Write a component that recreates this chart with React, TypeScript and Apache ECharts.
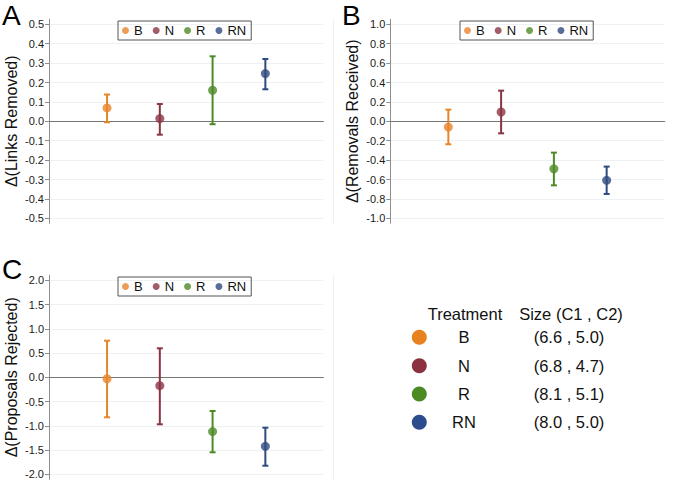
import React, { useEffect, useRef } from "react";
import * as echarts from "echarts";

const categories = ["B", "N", "R", "RN"];
const colors = ["#e8852a", "#8b3443", "#4d8a26", "#2e4a7e"];
const tableColors = ["#e8821f", "#8b3141", "#4c8a23", "#2c4c8e"];

// Panel A: Δ(Links Removed)
const meanA = [0.069, 0.014, 0.16, 0.246];
const lowA = [-0.005, -0.069, -0.015, 0.165];
const highA = [0.138, 0.089, 0.335, 0.321];

// Panel B: Δ(Removals Received)
const meanB = [-0.059, 0.096, -0.49, -0.608];
const lowB = [-0.237, -0.124, -0.66, -0.749];
const highB = [0.12, 0.316, -0.323, -0.467];

// Panel C: Δ(Proposals Rejected)
const meanC = [-0.03, -0.173, -1.12, -1.423];
const lowC = [-0.825, -0.969, -1.546, -1.823];
const highC = [0.755, 0.598, -0.695, -1.039];

// Table
const sizeC1 = [6.6, 6.8, 8.1, 8.0];
const sizeC2 = [5.0, 4.7, 5.1, 5.0];

const FONT = "'Liberation Sans', Arial, Helvetica, sans-serif";

export default function App() {
  const ref = useRef<HTMLDivElement>(null);

  useEffect(() => {
    if (!ref.current) return;
    const chart = echarts.init(ref.current, undefined, { renderer: "svg" });

    const panels = [
      { name: "Δ(Links Removed)", mean: meanA, low: lowA, high: highA, min: -0.5, max: 0.5, interval: 0.1, left: 49, top: 24.3, legendLeft: 118, legendTop: 21, border: true },
      { name: "Δ(Removals Received)", mean: meanB, low: lowB, high: highB, min: -1, max: 1, interval: 0.2, left: 390.3, top: 24.3, legendLeft: 460, legendTop: 21, border: false },
      { name: "Δ(Proposals Rejected)", mean: meanC, low: lowC, high: highC, min: -2, max: 2, interval: 0.5, left: 49, top: 280.3, legendLeft: 118, legendTop: 277, border: true },
    ];

    const grid: any[] = [];
    const xAxis: any[] = [];
    const yAxis: any[] = [];
    const series: any[] = [];
    const legend: any[] = [];

    panels.forEach((p) => {
      // outer grid (axis line extension + faint panel border)
      const og = grid.length;
      grid.push({ left: p.left, top: p.top - 5, width: p.border ? 284 : 274.4, height: 204, containLabel: false });
      xAxis.push({ gridIndex: og, type: "value", show: false, min: 0, max: 1 });
      const oy = yAxis.length;
      yAxis.push({
        gridIndex: og, type: "value", min: 0, max: 1, position: "left",
        axisLine: { show: true, onZero: false, lineStyle: { color: "#8e8e8e", width: 1 } },
        axisTick: { show: false }, axisLabel: { show: false }, splitLine: { show: false },
      });
      if (p.border) {
        yAxis.push({
          gridIndex: og, type: "value", min: 0, max: 1, position: "right",
          axisLine: { show: true, onZero: false, lineStyle: { color: "#f0f0f0", width: 1 } },
          axisTick: { show: false }, axisLabel: { show: false }, splitLine: { show: false },
        });
      }
      series.push({
        type: "line", xAxisIndex: og, yAxisIndex: oy, data: [], silent: true,
      });

      // data grid
      const g = grid.length;
      grid.push({ left: p.left, top: p.top, width: 274.4, height: 194, containLabel: false });
      const xi = xAxis.length;
      xAxis.push({
        gridIndex: g, type: "value", min: -0.1, max: 5.1,
        axisLine: { show: true, onZero: true, lineStyle: { color: "#777777", width: 1.2 } },
        axisTick: { show: false }, axisLabel: { show: false }, splitLine: { show: false },
      });
      const yi = yAxis.length;
      yAxis.push({
        gridIndex: g, type: "value", min: p.min, max: p.max, interval: p.interval,
        name: p.name, nameLocation: "middle", nameRotate: 90, nameGap: 30,
        nameTextStyle: { fontSize: 16, color: "#111", fontFamily: FONT },
        axisLine: { show: false, onZero: false },
        axisTick: { show: true, length: 4, lineStyle: { color: "#8e8e8e" } },
        axisLabel: {
          fontSize: 11, color: "#1a1a1a", fontFamily: FONT, margin: 5,
          formatter: (v: number) => (Math.abs(v) < 1e-9 ? 0 : v).toFixed(1),
        },
        splitLine: { show: true, lineStyle: { color: "#edf1f4", width: 1 } },
      });

      series.push({
        type: "custom",
        xAxisIndex: xi, yAxisIndex: yi, z: 2,
        encode: { x: 0, y: [1, 2] },
        data: categories.map((_, i) => [i + 1, p.low[i], p.high[i], i]),
        renderItem: (_params: any, api: any) => {
          const x = api.value(0);
          const lo = api.coord([x, api.value(1)]);
          const hi = api.coord([x, api.value(2)]);
          const style = { stroke: colors[api.value(3)], lineWidth: 2 };
          return {
            type: "group",
            children: [
              { type: "line", shape: { x1: lo[0], y1: lo[1], x2: hi[0], y2: hi[1] }, style },
              { type: "line", shape: { x1: lo[0] - 3, y1: lo[1], x2: lo[0] + 3, y2: lo[1] }, style },
              { type: "line", shape: { x1: hi[0] - 3, y1: hi[1], x2: hi[0] + 3, y2: hi[1] }, style },
            ],
          };
        },
      });

      categories.forEach((c, i) => {
        series.push({
          type: "scatter", name: c, xAxisIndex: xi, yAxisIndex: yi, z: 3,
          symbol: "circle", symbolSize: 9,
          itemStyle: { color: colors[i] },
          data: [[i + 1, p.mean[i]]],
        });
      });

      legend.push({
        data: categories, left: p.legendLeft, top: p.legendTop,
        orient: "horizontal", icon: "circle", itemWidth: 7, itemHeight: 7,
        itemGap: 10, padding: [3, 5, 3, 4], borderColor: "#555", borderWidth: 1,
        selectedMode: false,
        textStyle: { fontSize: 13, color: "#111", fontFamily: FONT, padding: [1, 0, 0, 0] },
      });
    });

    const rowY = [337.3, 365.7, 394, 422.3];
    const TF = 16.5;
    const graphic: any[] = [
      { type: "text", left: 2, top: 1, style: { text: "A", fontSize: 28, fontFamily: FONT, fill: "#000" } },
      { type: "text", left: 342, top: 1, style: { text: "B", fontSize: 28, fontFamily: FONT, fill: "#000" } },
      { type: "text", left: 2, top: 255, style: { text: "C", fontSize: 28, fontFamily: FONT, fill: "#000" } },
      { type: "text", x: 465, y: 314, style: { text: "Treatment", fontSize: TF, fontFamily: FONT, fill: "#111", align: "center", verticalAlign: "middle" } },
      { type: "text", x: 571, y: 314, style: { text: "Size (C1 , C2)", fontSize: TF, fontFamily: FONT, fill: "#111", align: "center", verticalAlign: "middle" } },
    ];
    categories.forEach((c, i) => {
      graphic.push({ type: "circle", shape: { cx: 419.3, cy: rowY[i], r: 7.5 }, style: { fill: tableColors[i] } });
      graphic.push({ type: "text", x: 464, y: rowY[i], style: { text: c, fontSize: TF, fontFamily: FONT, fill: "#111", align: "center", verticalAlign: "middle" } });
      graphic.push({ type: "text", x: 569, y: rowY[i], style: { text: `(${sizeC1[i].toFixed(1)} , ${sizeC2[i].toFixed(1)})`, fontSize: TF, fontFamily: FONT, fill: "#111", align: "center", verticalAlign: "middle" } });
    });

    chart.setOption({
      animation: false,
      backgroundColor: "#ffffff",
      textStyle: { fontFamily: FONT },
      grid, xAxis, yAxis, series, legend, graphic,
    });

    return () => chart.dispose();
  }, []);

  return <div ref={ref} style={{ position: "absolute", left: 0, top: 0, width: 676, height: 486 }} />;
}
